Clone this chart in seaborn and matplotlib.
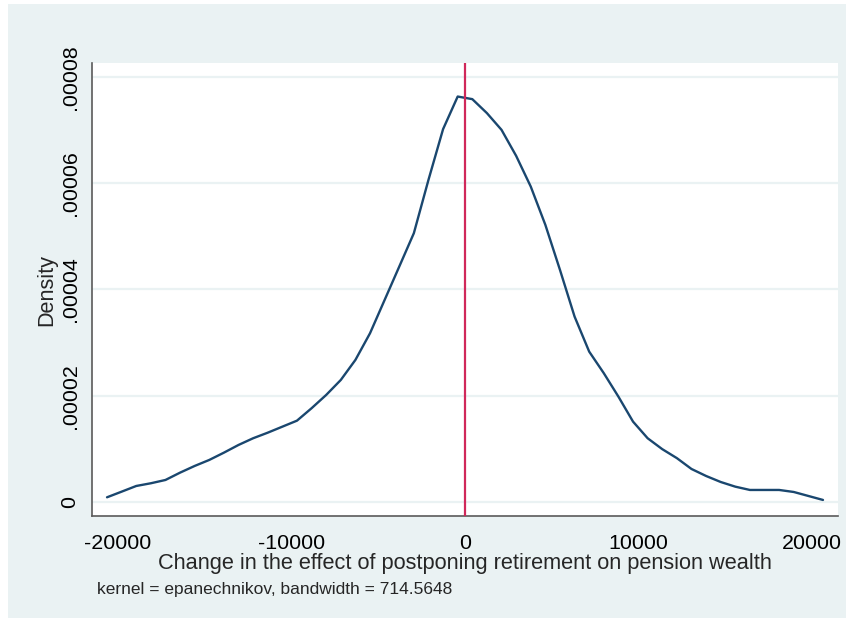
import numpy as np
import pandas as pd
import seaborn as sns
import matplotlib.pyplot as plt
from matplotlib.patches import Rectangle
from matplotlib.ticker import FuncFormatter

# Kernel density estimate evaluated on a 50-point grid across the data range
grid_min = -20634
grid_max = 20634
n_points = 50
density = [
    0.088, 0.194, 0.301, 0.352, 0.414, 0.552, 0.678, 0.791, 0.928, 1.073,
    1.199, 1.304, 1.417, 1.530, 1.764, 2.014, 2.296, 2.673, 3.175, 3.802,
    4.429, 5.058, 6.061, 7.016, 7.629, 7.580, 7.317, 7.002, 6.513, 5.935,
    5.214, 4.367, 3.488, 2.829, 2.423, 1.982, 1.512, 1.199, 0.994, 0.825,
    0.621, 0.489, 0.376, 0.288, 0.226, 0.226, 0.226, 0.188, 0.113, 0.038,
]  # in units of 1e-5
x_ticks = [-20000, -10000, 0, 10000, 20000]
y_ticks = [0, 0.00002, 0.00004, 0.00006, 0.00008]
x_label = "Change in the effect of postponing retirement on pension wealth"
y_label = "Density"
note = "kernel = epanechnikov, bandwidth = 714.5648"

df = pd.DataFrame({
    "x": np.linspace(grid_min, grid_max, n_points),
    "density": np.array(density) * 1e-5,
})

sns.set_theme(style="white")
plt.rcParams["font.family"] = ["Liberation Sans", "DejaVu Sans"]
plt.rcParams["axes.unicode_minus"] = False

navy = "#1A476F"
bluish = "#EAF2F3"
axis_grey = "#5A5A5A"

fig = plt.figure(figsize=(8.46, 6.2), dpi=100)
fig.patch.set_facecolor("white")
fig.patches.append(Rectangle((8 / 846, 0.003), 1 - 8 / 846, 1 - 4 / 620 - 0.003,
                             transform=fig.transFigure, facecolor=bluish,
                             edgecolor="none", zorder=-10))

ax = fig.add_axes([92 / 846, 1 - 516 / 620, (838 - 92) / 846, (516 - 63) / 620])
ax.set_facecolor("white")

for yt in y_ticks:
    ax.axhline(yt, color=bluish, lw=1.6, zorder=0)

sns.lineplot(data=df, x="x", y="density", ax=ax, color=navy, lw=1.7, zorder=3)
ax.axvline(0, color="#D0285A", lw=1.6, zorder=4)

ax.set_xlim(-21500, 21500)
ax.set_ylim(-0.00000264, 0.0000826)
ax.set_xticks(x_ticks)
ax.set_yticks(y_ticks)
ax.yaxis.set_major_formatter(FuncFormatter(
    lambda v, p: "0" if v == 0 else f"{v:.5f}".lstrip("0")))

for side in ["top", "right"]:
    ax.spines[side].set_visible(False)
for side in ["left", "bottom"]:
    ax.spines[side].set_color(axis_grey)
    ax.spines[side].set_linewidth(1.2)

ax.tick_params(axis="both", which="major", length=6, width=1.1, color=axis_grey,
               labelsize=15.4, labelcolor="black", direction="out")
ax.tick_params(axis="x", pad=7)
ax.tick_params(axis="y", pad=3)
for lab in ax.get_yticklabels():
    lab.set_rotation(90)
    lab.set_va("center")

ax.set_xlabel(x_label, fontsize=15.7, labelpad=0)
ax.set_ylabel(y_label, fontsize=15.6, labelpad=2)
ax.grid(False)

fig.text(96.5 / 846, 1 - 594 / 620, note, fontsize=12.5, ha="left", va="baseline")

fig.savefig("out.png", dpi=100)
